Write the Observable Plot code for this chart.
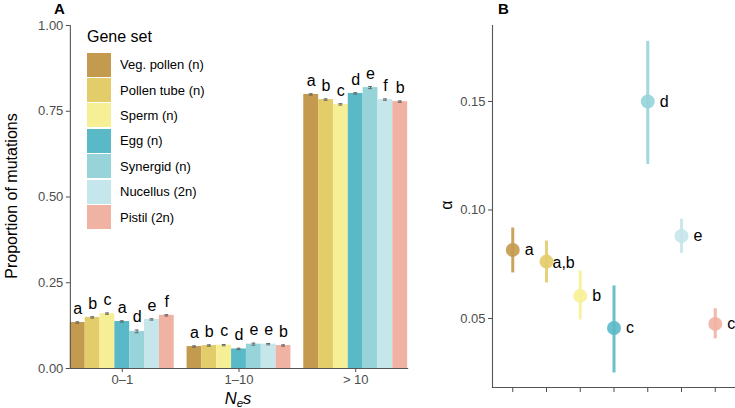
<!DOCTYPE html>
<html>
<head>
<meta charset="utf-8">
<script src="https://cdn.jsdelivr.net/npm/d3@7"></script>
<script src="https://cdn.jsdelivr.net/npm/@observablehq/plot@0.6"></script>
<style>
  html, body { margin: 0; padding: 0; background: #fff; }
  #wrap { position: relative; width: 735px; height: 408px; font-family: "Liberation Sans", Arial, sans-serif; overflow: hidden; }
  #panelA { position: absolute; left: 0; top: 0; }
  #panelB { position: absolute; left: 430px; top: 0; }
  .plab { position: absolute; font-weight: bold; font-size: 15px; color: #000; }
  #legend { position: absolute; left: 87px; top: 28px; color: #000; }
  #legend .title { font-size: 16px; height: 24px; }
  #legend .row { display: flex; align-items: center; height: 25.4px; font-size: 13px; }
  #legend .sw { width: 24px; height: 24px; margin-right: 9px; }
  #ylabA { position: absolute; left: 12px; top: 196px; transform: translate(-50%, -50%) rotate(-90deg); font-size: 16px; white-space: nowrap; color: #000; }
  #xlabA { position: absolute; left: 238px; top: 398px; transform: translate(-50%, -50%); font-size: 16.5px; font-style: italic; color: #000; line-height: 1; white-space: nowrap; }
  #xlabA sub { font-size: 11.5px; line-height: 0; vertical-align: -3px; }
  #alab { position: absolute; left: 447px; top: 205px; transform: translate(-50%, -50%) rotate(-90deg); font-size: 16px; color: #000; }
</style>
</head>
<body>
<div id="wrap">
  <div id="panelA"></div>
  <div id="panelB"></div>
  <div class="plab" style="left:54px; top:0px;">A</div>
  <div class="plab" style="left:498px; top:0px;">B</div>
  <div id="legend"></div>
  <div id="ylabA">Proportion of mutations</div>
  <div id="xlabA">N<sub>e</sub>s</div>
  <div id="alab">α</div>
</div>
<script>
// ---- data ----
const geneSets = ["Veg. pollen (n)", "Pollen tube (n)", "Sperm (n)", "Egg (n)", "Synergid (n)", "Nucellus (2n)", "Pistil (2n)"];
const setColors = ["#C49A4E", "#E3CC6A", "#F7EF96", "#5AB9C6", "#96D4DA", "#C5E6EB", "#F0B2A2"];
const nesGroups = ["0\u20131", "1\u201310", "> 10"];

// Panel A: proportion of mutations, per Nes group and gene set
const prop01  = [0.134, 0.149, 0.160, 0.137, 0.108, 0.143, 0.155];
const prop110 = [0.064, 0.067, 0.068, 0.057, 0.071, 0.071, 0.067];
const prop10  = [0.799, 0.784, 0.770, 0.802, 0.819, 0.784, 0.778];
const err01   = [0.002, 0.002, 0.002, 0.002, 0.004, 0.002, 0.002];
const err110  = [0.002, 0.002, 0.002, 0.002, 0.003, 0.002, 0.002];
const err10   = [0.002, 0.002, 0.002, 0.002, 0.003, 0.002, 0.002];
const letters01  = ["a", "b", "c", "a", "d", "e", "f"];
const letters110 = ["a", "b", "c", "d", "e", "e", "b"];
const letters10  = ["a", "b", "c", "d", "e", "f", "b"];

// Panel B: alpha estimates with intervals
const alphaEst = [0.0816, 0.0762, 0.0604, 0.0456, 0.1500, 0.0880, 0.0475];
const alphaLo  = [0.0710, 0.0664, 0.0493, 0.0249, 0.1210, 0.0800, 0.0406];
const alphaHi  = [0.0917, 0.0857, 0.0719, 0.0650, 0.1777, 0.0958, 0.0545];
const alphaLetters = ["a", "a,b", "b", "c", "d", "e", "c"];
const alphaTicks = [0.05, 0.10, 0.15];
const propTicks = [0, 0.25, 0.5, 0.75, 1];

// ---- build tables ----
const propRows = [];
[[prop01, err01, letters01], [prop110, err110, letters110], [prop10, err10, letters10]].forEach(([p, e, l], gi) => {
  geneSets.forEach((s, si) => propRows.push({group: nesGroups[gi], set: s, value: p[si], err: e[si], letter: l[si]}));
});
const alphaRows = geneSets.map((s, i) => ({set: s, est: alphaEst[i], lo: alphaLo[i], hi: alphaHi[i], letter: alphaLetters[i]}));

const axisColor = "#4d4d4d";
const font = "'Liberation Sans', Arial, sans-serif";

// ---- Panel A ----
const plotA = Plot.plot({
  width: 440, height: 408,
  marginLeft: 52, marginRight: 15, marginTop: 25, marginBottom: 40,
  style: {fontFamily: font, fontSize: "13px", color: axisColor, background: "transparent"},
  fx: {domain: nesGroups, paddingInner: 0.11, paddingOuter: 0.153, round: false, label: null},
  x: {domain: geneSets, padding: 0, round: false, axis: null},
  y: {domain: [0, 1], label: null},
  color: {domain: geneSets, range: setColors},
  marks: [
    Plot.barY(propRows, {fx: "group", x: "set", y: "value", fill: "set"}),
    Plot.ruleX(propRows, {fx: "group", x: "set", y1: d => d.value - d.err, y2: d => d.value + d.err, stroke: "#666", strokeWidth: 1}),
    Plot.tickY(propRows, {fx: "group", x: "set", y: d => d.value + d.err, stroke: "#666", insetLeft: 5.5, insetRight: 5.5}),
    Plot.tickY(propRows, {fx: "group", x: "set", y: d => d.value - d.err, stroke: "#666", insetLeft: 5.5, insetRight: 5.5}),
    Plot.text(propRows, {fx: "group", x: "set", y: d => d.value + d.err, text: "letter", dy: -8, lineAnchor: "bottom", fontSize: 16, fill: "#000"}),
    Plot.axisY({ticks: propTicks, tickFormat: d3.format(".2f"), tickSize: 4, tickPadding: 3, label: null, stroke: axisColor, fill: axisColor, fontSize: 13}),
    Plot.axisFx({anchor: "bottom", tickSize: 4, tickPadding: 2, label: null, stroke: axisColor, fill: axisColor, fontSize: 13}),
    Plot.frame({anchor: "bottom", facet: "super", stroke: "#555", strokeWidth: 1.1}),
    Plot.frame({anchor: "left", facet: "super", stroke: "#555", strokeWidth: 1.1})
  ]
});
document.getElementById("panelA").appendChild(plotA);

// legend (HTML, built from the arrays)
const leg = document.getElementById("legend");
const t = document.createElement("div"); t.className = "title"; t.textContent = "Gene set"; leg.appendChild(t);
geneSets.forEach((s, i) => {
  const r = document.createElement("div"); r.className = "row";
  const sw = document.createElement("div"); sw.className = "sw"; sw.style.background = setColors[i];
  const lb = document.createElement("span"); lb.textContent = s;
  r.appendChild(sw); r.appendChild(lb); leg.appendChild(r);
});

// ---- Panel B ----
const plotB = Plot.plot({
  width: 305, height: 408,
  marginLeft: 62, marginRight: 0, marginTop: 25, marginBottom: 21,
  style: {fontFamily: font, fontSize: "13px", color: axisColor, background: "transparent"},
  x: {type: "point", domain: geneSets, padding: 0.6, round: false, label: null},
  y: {domain: [0.0182, 0.185], label: null},
  color: {domain: geneSets, range: setColors},
  marks: [
    Plot.ruleX(alphaRows, {x: "set", y1: "lo", y2: "hi", stroke: "set", strokeWidth: 3, strokeOpacity: 0.9}),
    Plot.dot(alphaRows, {x: "set", y: "est", fill: "set", r: 7, fillOpacity: 0.9}),
    Plot.text(alphaRows.filter(d => d.letter !== "a,b"), {x: "set", y: "est", text: "letter", dx: 12, textAnchor: "start", fontSize: 16, fill: "#000"}),
    Plot.text(alphaRows.filter(d => d.letter === "a,b"), {x: "set", y: "est", text: "letter", dx: 6, dy: 1, textAnchor: "start", fontSize: 16, fill: "#000"}),
    Plot.axisY({ticks: alphaTicks, tickFormat: d3.format(".2f"), tickSize: 4, tickPadding: 3, stroke: axisColor, fill: axisColor, fontSize: 13, label: null}),
    Plot.axisX({tickSize: 5, tickFormat: () => "", label: null, stroke: axisColor}),
    Plot.frame({anchor: "left", stroke: "#555", strokeWidth: 1.1}),
    Plot.frame({anchor: "bottom", stroke: "#555", strokeWidth: 1.1})
  ]
});
document.getElementById("panelB").appendChild(plotB);
</script>
</body>
</html>
